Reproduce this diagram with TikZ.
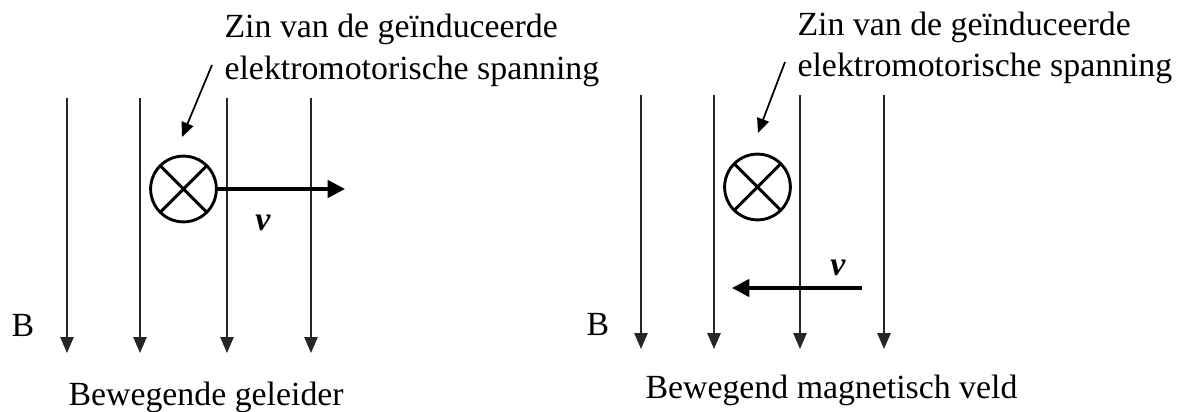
\documentclass[tikz,border=0pt]{standalone}
\usepackage{fontspec}
\setmainfont{Liberation Serif}
\usetikzlibrary{arrows.meta}
\usetikzlibrary{positioning}

\begin{document}
\begin{tikzpicture}[
  x=0.01216cm, y=-0.01216cm,
  every node/.style={font=\fontsize{11.7}{14}\selectfont, inner sep=0pt},
  fieldline/.style={-{Triangle[length=5.5pt, width=4.6pt]}, line width=0.55pt, draw=black!85, fill=black!85},
  speed/.style={-{Triangle[length=6pt, width=6pt]}, line width=1.2pt},
  pointer/.style={-{Triangle[length=5pt, width=4.3pt]}, line width=0.6pt},
  emf/.style={circle, draw, line width=1pt, minimum size=0.8cm,
    path picture={\draw[line width=1pt]
      (path picture bounding box.north west) -- (path picture bounding box.south east)
      (path picture bounding box.north east) -- (path picture bounding box.south west);}},
]
\useasboundingbox (0,0) rectangle (1189,412);

% Left panel - field lines
\coordinate (fL1a) at (67,98);  \coordinate (fL1b) at (67,353);
\coordinate (fL2a) at (140,98); \coordinate (fL2b) at (140,353);
\coordinate (fL3a) at (227,98); \coordinate (fL3b) at (227,353);
\coordinate (fL4a) at (311,98); \coordinate (fL4b) at (311,353);
\draw[fieldline] (fL1a) -- (fL1b);
\draw[fieldline] (fL2a) -- (fL2b);
\draw[fieldline] (fL3a) -- (fL3b);
\draw[fieldline] (fL4a) -- (fL4b);

% Left panel - conductor and speed
\node[emf] (emfL) at (183.5,189) {};
\coordinate (vtipL) at (345,189);
\draw[speed] (emfL.east) -- (vtipL);
\node (vL) at (263,223) {\textbf{\textit{v}}};

% Left panel - labels
\node (BL) at (23,325) {B};
\node[anchor=base west] (zinL1) at (224,38) {Zin van de geïnduceerde};
\node[anchor=base west] (zinL2) at (224,80) {elektromotorische spanning};
\coordinate (ptrL) at (212,65);
\coordinate (ptrtipL) at (182,137);
\draw[pointer] (ptrL) -- (ptrtipL);
\node[anchor=base west] (titleL) at (68,406) {Bewegende geleider};

% Right panel - field lines
\coordinate (fR1a) at (641,95); \coordinate (fR1b) at (641,349);
\coordinate (fR2a) at (714,95); \coordinate (fR2b) at (714,349);
\coordinate (fR3a) at (800,95); \coordinate (fR3b) at (800,349);
\coordinate (fR4a) at (884,95); \coordinate (fR4b) at (884,349);
\draw[fieldline] (fR1a) -- (fR1b);
\draw[fieldline] (fR2a) -- (fR2b);
\draw[fieldline] (fR3a) -- (fR3b);
\draw[fieldline] (fR4a) -- (fR4b);

% Right panel - conductor and speed
\node[emf] (emfR) at (757.5,187) {};
\coordinate (vtailR) at (862,288);
\coordinate (vtipR) at (732,288);
\draw[speed] (vtailR) -- (vtipR);
\node (vR) at (838,268) {\textbf{\textit{v}}};

% Right panel - labels
\node (BR) at (598,324) {B};
\node[anchor=base west] (zinR1) at (797,36) {Zin van de geïnduceerde};
\node[anchor=base west] (zinR2) at (797,77) {elektromotorische spanning};
\coordinate (ptrR) at (785,62);
\coordinate (ptrtipR) at (758,133);
\draw[pointer] (ptrR) -- (ptrtipR);
\node[anchor=base west] (titleR) at (645,399) {Bewegend magnetisch veld};

\end{tikzpicture}
\end{document}
